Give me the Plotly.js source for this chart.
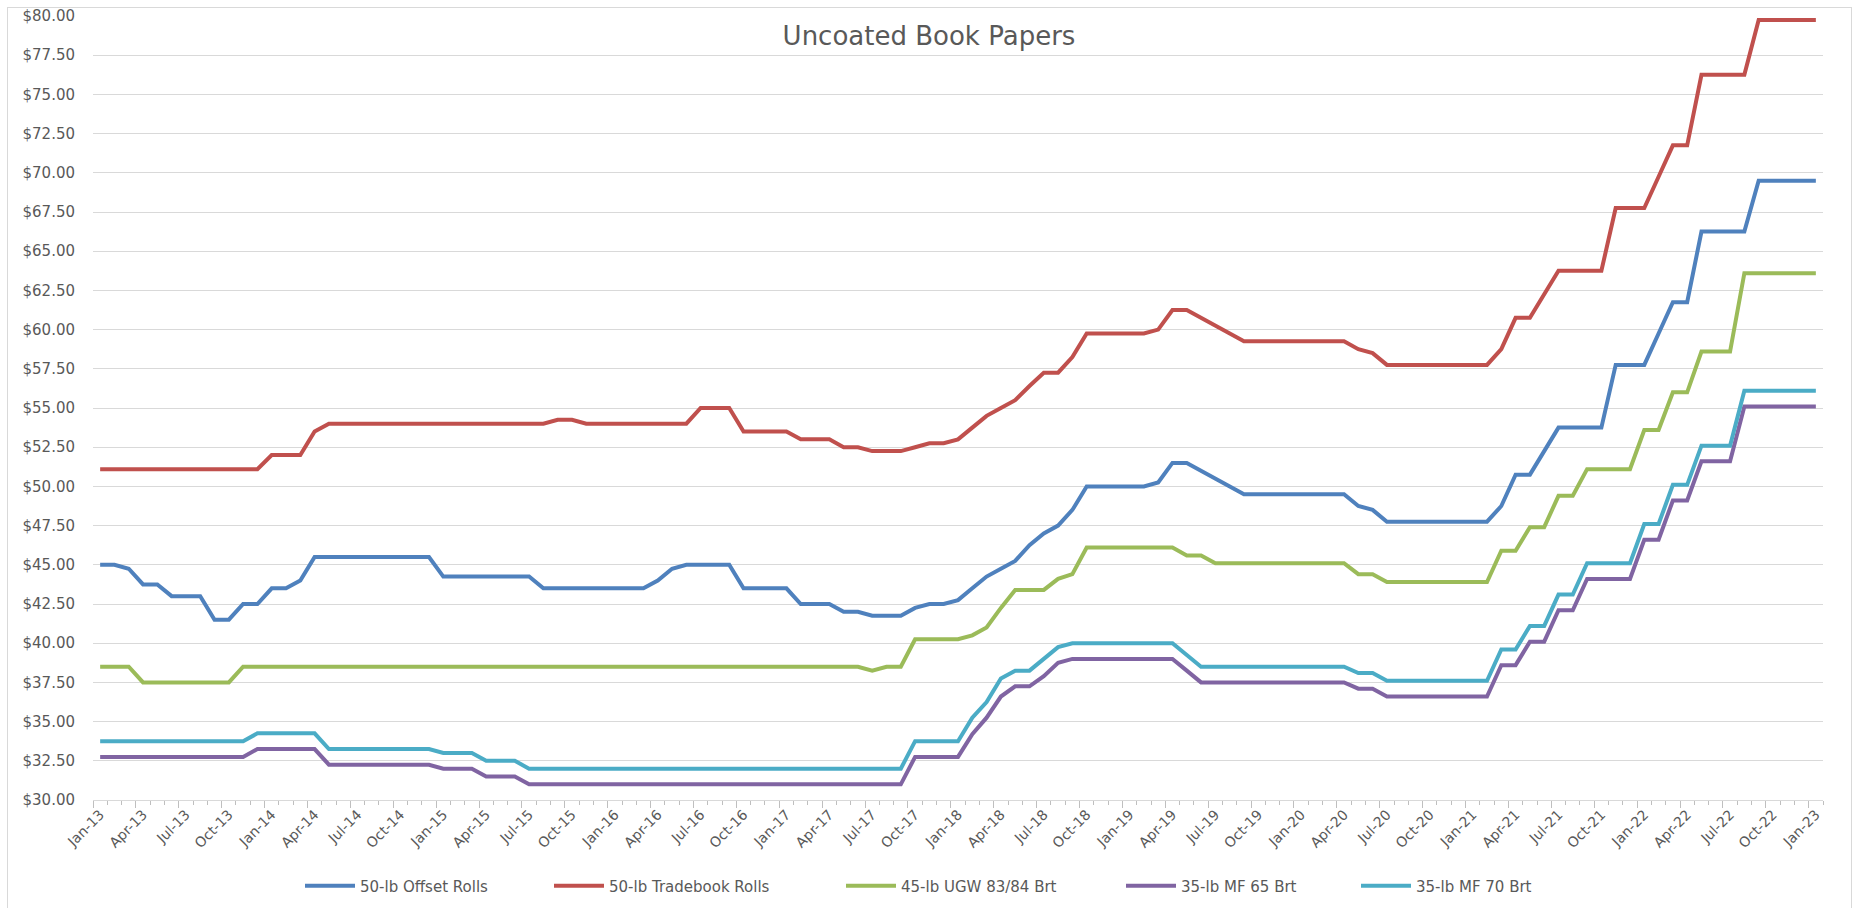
<!DOCTYPE html>
<html>
<head>
<meta charset="utf-8">
<script src="https://cdn.plot.ly/plotly-3.0.1.min.js"></script>
<style>
  html, body { margin: 0; padding: 0; background: #ffffff; }
  #wrap { position: relative; width: 1852px; height: 908px; overflow: hidden; }
  #chart { position: absolute; left: 0; top: 0; width: 1852px; height: 908px; }
  #frame { position: absolute; left: 7px; top: 7px; width: 1845px; height: 920px; box-sizing: border-box;
           border: 1px solid #d9d9d9; pointer-events: none; }
</style>
</head>
<body>
<div id="wrap"><div id="chart"></div><div id="frame"></div></div>
<script>
const months = [
  "Jan-13","Feb-13","Mar-13","Apr-13","May-13","Jun-13","Jul-13","Aug-13","Sep-13","Oct-13","Nov-13","Dec-13",
  "Jan-14","Feb-14","Mar-14","Apr-14","May-14","Jun-14","Jul-14","Aug-14","Sep-14","Oct-14","Nov-14","Dec-14",
  "Jan-15","Feb-15","Mar-15","Apr-15","May-15","Jun-15","Jul-15","Aug-15","Sep-15","Oct-15","Nov-15","Dec-15",
  "Jan-16","Feb-16","Mar-16","Apr-16","May-16","Jun-16","Jul-16","Aug-16","Sep-16","Oct-16","Nov-16","Dec-16",
  "Jan-17","Feb-17","Mar-17","Apr-17","May-17","Jun-17","Jul-17","Aug-17","Sep-17","Oct-17","Nov-17","Dec-17",
  "Jan-18","Feb-18","Mar-18","Apr-18","May-18","Jun-18","Jul-18","Aug-18","Sep-18","Oct-18","Nov-18","Dec-18",
  "Jan-19","Feb-19","Mar-19","Apr-19","May-19","Jun-19","Jul-19","Aug-19","Sep-19","Oct-19","Nov-19","Dec-19",
  "Jan-20","Feb-20","Mar-20","Apr-20","May-20","Jun-20","Jul-20","Aug-20","Sep-20","Oct-20","Nov-20","Dec-20",
  "Jan-21","Feb-21","Mar-21","Apr-21","May-21","Jun-21","Jul-21","Aug-21","Sep-21","Oct-21","Nov-21","Dec-21",
  "Jan-22","Feb-22","Mar-22","Apr-22","May-22","Jun-22","Jul-22","Aug-22","Sep-22","Oct-22","Nov-22","Dec-22",
  "Jan-23"
];

const offsetRolls50 = [
  45.0,45.0,44.75,43.75,43.75,43.0,43.0,43.0,41.5,41.5,42.5,42.5,
  43.5,43.5,44.0,45.5,45.5,45.5,45.5,45.5,45.5,45.5,45.5,45.5,
  44.25,44.25,44.25,44.25,44.25,44.25,44.25,43.5,43.5,43.5,43.5,43.5,
  43.5,43.5,43.5,44.0,44.75,45.0,45.0,45.0,45.0,43.5,43.5,43.5,
  43.5,42.5,42.5,42.5,42.0,42.0,41.75,41.75,41.75,42.25,42.5,42.5,
  42.75,43.5,44.25,44.75,45.25,46.25,47.0,47.5,48.5,50.0,50.0,50.0,
  50.0,50.0,50.25,51.5,51.5,51.0,50.5,50.0,49.5,49.5,49.5,49.5,
  49.5,49.5,49.5,49.5,48.75,48.5,47.75,47.75,47.75,47.75,47.75,47.75,
  47.75,47.75,48.75,50.75,50.75,52.25,53.75,53.75,53.75,53.75,57.75,57.75,
  57.75,59.75,61.75,61.75,66.25,66.25,66.25,66.25,69.5,69.5,69.5,69.5,
  69.5
];

const tradebookRolls50 = [
  51.1,51.1,51.1,51.1,51.1,51.1,51.1,51.1,51.1,51.1,51.1,51.1,
  52.0,52.0,52.0,53.5,54.0,54.0,54.0,54.0,54.0,54.0,54.0,54.0,
  54.0,54.0,54.0,54.0,54.0,54.0,54.0,54.0,54.25,54.25,54.0,54.0,
  54.0,54.0,54.0,54.0,54.0,54.0,55.0,55.0,55.0,53.5,53.5,53.5,
  53.5,53.0,53.0,53.0,52.5,52.5,52.25,52.25,52.25,52.5,52.75,52.75,
  53.0,53.75,54.5,55.0,55.5,56.4,57.25,57.25,58.25,59.75,59.75,59.75,
  59.75,59.75,60.0,61.25,61.25,60.75,60.25,59.75,59.25,59.25,59.25,59.25,
  59.25,59.25,59.25,59.25,58.75,58.5,57.75,57.75,57.75,57.75,57.75,57.75,
  57.75,57.75,58.75,60.75,60.75,62.25,63.75,63.75,63.75,63.75,67.75,67.75,
  67.75,69.75,71.75,71.75,76.25,76.25,76.25,76.25,79.75,79.75,79.75,79.75,
  79.75
];

const ugw45 = [
  38.5,38.5,38.5,37.5,37.5,37.5,37.5,37.5,37.5,37.5,38.5,38.5,
  38.5,38.5,38.5,38.5,38.5,38.5,38.5,38.5,38.5,38.5,38.5,38.5,
  38.5,38.5,38.5,38.5,38.5,38.5,38.5,38.5,38.5,38.5,38.5,38.5,
  38.5,38.5,38.5,38.5,38.5,38.5,38.5,38.5,38.5,38.5,38.5,38.5,
  38.5,38.5,38.5,38.5,38.5,38.5,38.25,38.5,38.5,40.25,40.25,40.25,
  40.25,40.5,41.0,42.25,43.4,43.4,43.4,44.1,44.4,46.1,46.1,46.1,
  46.1,46.1,46.1,46.1,45.6,45.6,45.1,45.1,45.1,45.1,45.1,45.1,
  45.1,45.1,45.1,45.1,44.4,44.4,43.9,43.9,43.9,43.9,43.9,43.9,
  43.9,43.9,45.9,45.9,47.4,47.4,49.4,49.4,51.1,51.1,51.1,51.1,
  53.6,53.6,56.0,56.0,58.6,58.6,58.6,63.6,63.6,63.6,63.6,63.6,
  63.6
];

const mf65 = [
  32.75,32.75,32.75,32.75,32.75,32.75,32.75,32.75,32.75,32.75,32.75,33.25,
  33.25,33.25,33.25,33.25,32.25,32.25,32.25,32.25,32.25,32.25,32.25,32.25,
  32.0,32.0,32.0,31.5,31.5,31.5,31.0,31.0,31.0,31.0,31.0,31.0,
  31.0,31.0,31.0,31.0,31.0,31.0,31.0,31.0,31.0,31.0,31.0,31.0,
  31.0,31.0,31.0,31.0,31.0,31.0,31.0,31.0,31.0,32.75,32.75,32.75,
  32.75,34.2,35.25,36.6,37.25,37.25,37.9,38.75,39.0,39.0,39.0,39.0,
  39.0,39.0,39.0,39.0,38.25,37.5,37.5,37.5,37.5,37.5,37.5,37.5,
  37.5,37.5,37.5,37.5,37.1,37.1,36.6,36.6,36.6,36.6,36.6,36.6,
  36.6,36.6,38.6,38.6,40.1,40.1,42.1,42.1,44.1,44.1,44.1,44.1,
  46.6,46.6,49.1,49.1,51.6,51.6,51.6,55.1,55.1,55.1,55.1,55.1,
  55.1
];

const mf70 = [
  33.75,33.75,33.75,33.75,33.75,33.75,33.75,33.75,33.75,33.75,33.75,34.25,
  34.25,34.25,34.25,34.25,33.25,33.25,33.25,33.25,33.25,33.25,33.25,33.25,
  33.0,33.0,33.0,32.5,32.5,32.5,32.0,32.0,32.0,32.0,32.0,32.0,
  32.0,32.0,32.0,32.0,32.0,32.0,32.0,32.0,32.0,32.0,32.0,32.0,
  32.0,32.0,32.0,32.0,32.0,32.0,32.0,32.0,32.0,33.75,33.75,33.75,
  33.75,35.25,36.25,37.75,38.25,38.25,39.0,39.75,40.0,40.0,40.0,40.0,
  40.0,40.0,40.0,40.0,39.25,38.5,38.5,38.5,38.5,38.5,38.5,38.5,
  38.5,38.5,38.5,38.5,38.1,38.1,37.6,37.6,37.6,37.6,37.6,37.6,
  37.6,37.6,39.6,39.6,41.1,41.1,43.1,43.1,45.1,45.1,45.1,45.1,
  47.6,47.6,50.1,50.1,52.6,52.6,52.6,56.1,56.1,56.1,56.1,56.1,
  56.1
];

const seriesNames = ["50-lb Offset Rolls","50-lb Tradebook Rolls","45-lb UGW 83/84 Brt","35-lb MF 65 Brt","35-lb MF 70 Brt"];
const seriesValues = [offsetRolls50, tradebookRolls50, ugw45, mf65, mf70];
const seriesColors = ["#4F81BD","#C0504D","#9BBB59","#8064A2","#4BACC6"];
const legendIds = ["legend","legend2","legend3","legend4","legend5"];
const legendLineStart = [307, 556, 848, 1128, 1363];

const FONT = "DejaVu Sans, Open Sans, sans-serif";
const TXT = "#595959";
const W = 1852, H = 908;

const traces = seriesNames.map((name, k) => ({
  type: "scatter", mode: "lines", name: name,
  x: months, y: seriesValues[k],
  line: { color: seriesColors[k], width: 4 },
  legend: legendIds[k],
  hovertemplate: "%{x}: $%{y:.2f}<extra>" + name + "</extra>"
}));

// helper trace carrying the monthly minor ticks on the overlaid axis
traces.push({
  type: "scatter", mode: "lines", x: months, y: offsetRolls50,
  xaxis: "x2", yaxis: "y", line: { width: 0, color: "rgba(0,0,0,0)" },
  opacity: 0, showlegend: false, hoverinfo: "skip"
});

const layout = {
  width: W, height: H,
  paper_bgcolor: "#ffffff", plot_bgcolor: "#ffffff",
  margin: { l: 93, r: 29, t: 16, b: 108 },
  font: { family: FONT, color: TXT, size: 14 },
  title: {
    text: "Uncoated Book Papers",
    font: { family: FONT, size: 26, color: TXT },
    xref: "container", x: 929 / W, xanchor: "center",
    yref: "container", y: 1 - 36 / H, yanchor: "middle"
  },
  xaxis: {
    type: "category", categoryorder: "array", categoryarray: months,
    range: [-0.5, 120.5], autorange: false,
    tickmode: "linear", tick0: 0, dtick: 3, tickson: "boundaries",
    ticks: "outside", ticklen: 7, tickwidth: 1, tickcolor: "#bfbfbf",
    tickangle: -45, tickfont: { family: FONT, size: 14, color: TXT },
    showline: true, linecolor: "#d9d9d9", linewidth: 1,
    showgrid: false, zeroline: false, fixedrange: true
  },
  xaxis2: {
    type: "category", categoryorder: "array", categoryarray: months,
    overlaying: "x", anchor: "y", side: "bottom",
    range: [-0.5, 120.5], autorange: false,
    tickmode: "linear", tick0: 0, dtick: 1, tickson: "boundaries",
    ticks: "outside", ticklen: 4, tickwidth: 1, tickcolor: "#bfbfbf",
    showticklabels: false, showline: false, showgrid: false, zeroline: false, fixedrange: true
  },
  yaxis: {
    range: [30, 80], autorange: false, tickmode: "linear", tick0: 30, dtick: 2.5,
    tickprefix: "$", tickformat: ".2f",
    tickfont: { family: FONT, size: 15, color: TXT },
    ticks: "", ticklabelstandoff: 17,
    showgrid: true, gridcolor: "#d9d9d9", gridwidth: 1,
    showline: false, zeroline: false, fixedrange: true
  },
  hovermode: "closest"
};

legendIds.forEach((id, k) => {
  layout[id] = {
    orientation: "h",
    xref: "container", x: (legendLineStart[k] - 7) / W, xanchor: "left",
    yref: "container", y: 1 - 886 / H, yanchor: "middle",
    itemwidth: 50,
    font: { family: FONT, size: 15, color: TXT },
    bgcolor: "rgba(0,0,0,0)", borderwidth: 0
  };
});

Plotly.newPlot("chart", traces, layout, { displayModeBar: false, responsive: false });
</script>
</body>
</html>
